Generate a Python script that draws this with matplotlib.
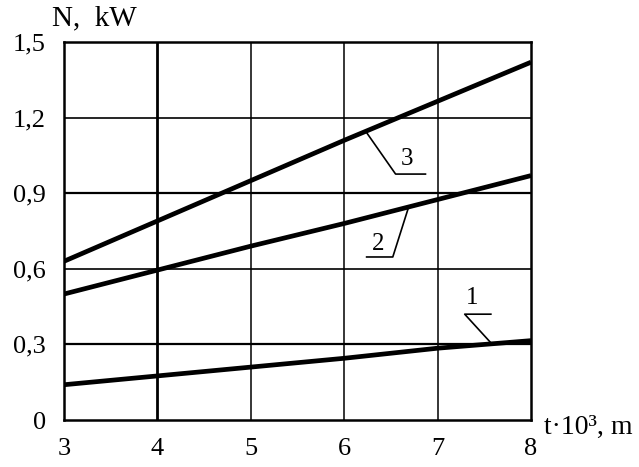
import numpy as np
import matplotlib.pyplot as plt

plt.rcParams['font.family'] = ['Liberation Serif', 'DejaVu Serif']

# thickness t*10^3, m
t = [3, 4, 5, 6, 7, 8]
# power N, kW for the three curves
N1 = [0.14, 0.175, 0.21, 0.245, 0.285, 0.315]
N2 = [0.50, 0.595, 0.69, 0.78, 0.875, 0.97]
N3 = [0.63, 0.79, 0.95, 1.11, 1.265, 1.42]

y_ticks = [0, 0.3, 0.6, 0.9, 1.2, 1.5]
y_labels = ['0', '0,3', '0,6', '0,9', '1,2', '1,5']
x_ticks = [3, 4, 5, 6, 7, 8]

# curve labels: (name, series, x on curve, elbow x, elbow y, end x, text x, text y)
labels = [
    ('1', N1, 7.58, 7.29, 0.42, 7.57, 7.37, 0.485),
    ('2', N2, 6.69, 6.52, 0.647, 6.24, 6.36, 0.70),
    ('3', N3, 6.23, 6.55, 0.976, 6.87, 6.67, 1.035),
]

fig = plt.figure(figsize=(6.39, 4.67), dpi=100)
ax = fig.add_axes([0.1002, 0.1006, 0.7308, 0.8094])

# grid
for x in x_ticks[1:-1]:
    ax.axvline(x, color='black', lw=2.0 if x == 4 else 1.1, zorder=1)
for y in y_ticks[1:-1]:
    ax.axhline(y, color='black', lw=1.6 if y in (0.3, 0.9) else 1.2, zorder=1)

for s in (N1, N2, N3):
    ax.plot(t, s, color='black', lw=3.4, solid_capstyle='butt', zorder=3)

for name, s, xs, xe, ye, xend, xt, yt in labels:
    ys = np.interp(xs, t, s)
    ax.plot([xs, xe, xend], [ys, ye, ye], color='black', lw=1.2, zorder=2)
    ax.text(xt, yt, name, fontsize=18, ha='center', va='center')

ax.set_xlim(3, 8)
ax.set_ylim(0, 1.5)
ax.set_xticks(x_ticks)
ax.set_yticks(y_ticks)
ax.set_yticklabels(y_labels)
ax.tick_params(length=0, labelsize=19)
ax.tick_params(axis='x', pad=13)
ax.tick_params(axis='y', pad=13)
for sp in ax.spines.values():
    sp.set_linewidth(1.8)

fig.text(0.081, 0.96, 'N,  kW', fontsize=21, ha='left', va='center')
fig.text(0.852, 0.085, 't·10³, m', fontsize=20, ha='left', va='center')

fig.savefig('out.png', dpi=100)
